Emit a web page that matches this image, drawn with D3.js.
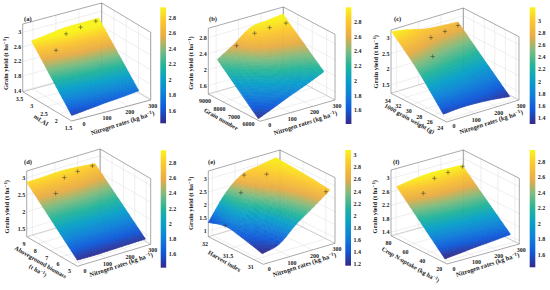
<!DOCTYPE html>
<html>
<head>
<meta charset="utf-8">
<script src="https://cdn.jsdelivr.net/npm/d3@7"></script>
<style>
  html, body { margin: 0; padding: 0; background: #fff; }
  text { font-family: "Liberation Serif", serif; font-weight: bold; fill: #222; }
</style>
</head>
<body>
<div id="chart-area"></div>
<script>
// surface rows run from the low to the high level of the panel's variable
var nitrogenA = [-45, 27, 100, 172, 248]
var levelsA = [1.5, 3.14]
var yieldsA = [[1.52, 1.57, 1.62, 1.66, 1.71], [2.91, 2.97, 3.03, 3.04, 3.05]]
var pointsA = [[0, 2.56, 2.81], [90, 2.99, 2.94], [180, 3.24, 2.87], [270, 3.46, 2.8]]

var nitrogenB = [-35, 39, 112, 186, 258]
var levelsB = [5544, 6965, 8380]
var yieldsB = [[1.43, 1.61, 1.79, 1.96, 2.14], [1.9, 2.17, 2.4, 2.5, 2.59], [2.37, 2.63, 2.93, 2.99, 3.04]]
var pointsB = [[0, 7583, 2.81], [90, 7733, 2.95], [180, 8090, 2.88], [270, 8350, 2.8]]

var nitrogenC = [-24, 51, 125, 200, 274]
var levelsC = [24.04, 28.97, 33.9]
var yieldsC = [[1.42, 1.46, 1.45, 1.41, 1.34], [2.41, 2.32, 2.24, 2.17, 2.1], [3.21, 3.11, 2.97, 2.91, 2.87]]
var pointsC = [[0, 27.08, 2.95], [90, 31.23, 3], [180, 32.4, 2.9], [270, 33.74, 2.78]]

var nitrogenD = [-25, 50, 125, 199, 277]
var levelsD = [4.6, 9.05]
var yieldsD = [[1.45, 1.44, 1.45, 1.46, 1.47], [2.87, 2.88, 2.9, 2.87, 2.82]]
var pointsD = [[0, 7, 2.89], [90, 8.02, 2.98], [180, 8.64, 2.86], [270, 9.13, 2.75]]

var nitrogenE = [-18, 57, 132, 207, 282]
var levelsE = [30.82, 31.22, 31.62, 32]
var yieldsE = [
    [1.17, 1.35, 1.92, 2.38, 2.86],
    [1.37, 1.65, 2.15, 2.58, 2.95],
    [1.51, 2.05, 2.5, 2.8, 3.01],
    [1.33, 2.25, 2.8, 2.94, 3.06]
]
var pointsE = [[0, 31.72, 1.41], [90, 31.82, 2.36], [100, 31.8, 3.03], [180, 31.7, 2.95], [270, 30.85, 2.8]]

var nitrogenF = [-22, 51, 124, 197, 270]
var levelsF = [17.3, 74.2]
var yieldsF = [[1.42, 1.47, 1.52, 1.56, 1.61], [2.84, 2.92, 2.97, 2.96, 2.94]]
var pointsF = [[0, 48.6, 2.93], [90, 59.4, 3.07], [180, 67.1, 2.98], [270, 73.7, 2.9]]

var panelLetters = ["(a)", "(b)", "(c)", "(d)", "(e)", "(f)"]
var levelTitles = [["mLAI"], ["Grain number"], ["1000 grain weight (g)"], ["Aboveground biomass", "(t ha|)"], ["Harvest index"], ["Crop N-uptake (kg ha|)"]]
var nitrogenTicks = [0, 100, 200, 300]
var levelTicks = [[1.5, 2, 2.5, 3, 3.5], [6000, 7000, 8000, 9000], [24, 26, 28, 30, 32, 34], [5, 6, 7, 8, 9], [31, 31.5, 32], [20, 40, 60, 80]]
var yieldTicks = [[1.4, 1.8, 2.2, 2.6, 3], [1.6, 2, 2.4, 2.8], [1.5, 2, 2.5, 3], [1.5, 2, 2.5, 3], [1, 1.5, 2, 2.5, 3], [1.4, 1.8, 2.2, 2.6, 3]]
var barTicks = [
    [1.6, 1.8, 2, 2.2, 2.4, 2.6, 2.8],
    [1.6, 1.8, 2, 2.2, 2.4, 2.6, 2.8],
    [1.4, 1.6, 1.8, 2, 2.2, 2.4, 2.6, 2.8, 3],
    [1.6, 1.8, 2, 2.2, 2.4, 2.6, 2.8],
    [1.2, 1.4, 1.6, 1.8, 2, 2.2, 2.4, 2.6, 2.8, 3],
    [1.6, 1.8, 2, 2.2, 2.4, 2.6, 2.8]
]
var nitrogenRanges = [[-45, 300], [-35, 300], [-24, 300], [-25, 300], [-18, 300], [-22, 300]]
var levelRanges = [[1.5, 3.5], [5430, 9000], [23.4, 34], [4.6, 9.05], [30.8, 32], [14.9, 80.8]]
var yieldRanges = [[1.37, 3.23], [1.39, 3.03], [1.23, 3.25], [1.27, 3.2], [0.78, 3.31], [1.3, 3.25]]
var colorRanges = [[1.43, 2.93], [1.41, 2.99], [1.3, 3.21], [1.42, 2.96], [1.17, 3.08], [1.43, 2.95]]

var nitrogenAll = [nitrogenA, nitrogenB, nitrogenC, nitrogenD, nitrogenE, nitrogenF]
var levelsAll = [levelsA, levelsB, levelsC, levelsD, levelsE, levelsF]
var yieldsAll = [yieldsA, yieldsB, yieldsC, yieldsD, yieldsE, yieldsF]
var pointsAll = [pointsA, pointsB, pointsC, pointsD, pointsE, pointsF]

// parula, nudged towards the more orange print of the figure
var parula = ["#352a87", "#1058d8", "#0f80d8", "#08a0c8", "#22b49a", "#7cbb80", "#e8ac45", "#fbc530", "#f9f31a"]

// box corners on the page: front, right, left and the wall height
var layout = [
    { F: [71.7, 121], R: [150.7, 100], L: [22.7, 91.7], h: 67.7, bar: [160.3, 7.3, 5.7, 116], letter: [24, 21], nt: [123.3, 125, -18], lt: [40, 122, 33], zt: [8.3, 63.3] },
    { F: [260, 121.3], R: [335, 100], L: [208.3, 94], h: 65.7, bar: [345.7, 7.3, 5.7, 116.7], letter: [209, 21], nt: [306, 125, -18], lt: [220, 121, 30], zt: [193.3, 63] },
    { F: [446.7, 122], R: [519, 100], L: [391, 93.3], h: 63.3, bar: [529.7, 7.3, 5.7, 116.7], letter: [394, 21], nt: [491.7, 124, -18], lt: [408.5, 120.5, 29], zt: [378.3, 61.7] },
    { F: [77.3, 266.3], R: [150.7, 244.3], L: [26.7, 236.7], h: 65.7, bar: [160.7, 150.3, 5.5, 117.4], letter: [24, 164], nt: [121.7, 266.7, -18], lt: [39.5, 264, 30], zt: [9.3, 206.7] },
    { F: [263.3, 264.3], R: [335, 243.3], L: [208.3, 236.7], h: 65.7, bar: [345.3, 150, 5.7, 115.7], letter: [208, 164], nt: [305, 266.7, -18], lt: [223.5, 263, 30], zt: [193.3, 203.3] },
    { F: [447, 264], R: [519.3, 244], L: [391, 235.7], h: 65.7, bar: [529.7, 150, 5.6, 117.3], letter: [393, 164], nt: [488.3, 266.7, -18], lt: [409.5, 266.5, 30], zt: [377.3, 206.7] }
]

var svg = d3.select("#chart-area").append("svg")
    .attr("width", 550)
    .attr("height", 290)
    .style("display", "block")

var defs = svg.append("defs")
var parulaScale = d3.scaleLinear()
    .domain(parula.map(function(c, i) { return i / (parula.length - 1) }))
    .range(parula)

// title with "|" standing in for the -1 exponent
function addTitle(sel, label, size) {
    var parts = label.split("|")
    sel.text(null).append("tspan").text(parts[0])
    if (parts.length > 1) {
        sel.append("tspan").attr("dy", -2).attr("font-size", size - 1.6).text("\u2212" + "1")
        sel.append("tspan").attr("dy", 2).text(parts[1])
    }
}

// catmull-rom through a row, t is a fractional index
function smooth(row, t) {
    var last = row.length - 1
    var k = Math.min(Math.floor(t), last - 1)
    var s = t - k
    var p1 = row[k], p2 = row[k + 1]
    var p0 = k > 0 ? row[k - 1] : 2 * p1 - p2
    var p3 = k + 2 <= last ? row[k + 2] : 2 * p2 - p1
    return 0.5 * (2 * p1 + (p2 - p0) * s + (2 * p0 - 5 * p1 + 4 * p2 - p3) * s * s + (3 * p1 - p0 - 3 * p2 + p3) * s * s * s)
}

function drawPanel(i) {
    var box = layout[i]
    var sN = d3.scaleLinear().domain(nitrogenRanges[i]).range([0, 1])
    var sV = d3.scaleLinear().domain(levelRanges[i]).range([0, 1])
    var sZ = d3.scaleLinear().domain(yieldRanges[i]).range([0, box.h])
    var color = d3.scaleSequential(parulaScale).domain(colorRanges[i]).clamp(true)
    var nRange = nitrogenRanges[i], vRange = levelRanges[i], zRange = yieldRanges[i]

    function project(n, v, z) {
        var a = sN(n), b = sV(v)
        return [
            box.F[0] + a * (box.R[0] - box.F[0]) + b * (box.L[0] - box.F[0]),
            box.F[1] + a * (box.R[1] - box.F[1]) + b * (box.L[1] - box.F[1]) - sZ(z)
        ]
    }

    var g = svg.append("g")
    var line = d3.line()

    // walls and floor grid
    var grid = []
    nitrogenTicks.forEach(function(n) {
        grid.push([project(n, vRange[0], zRange[0]), project(n, vRange[1], zRange[0]), project(n, vRange[1], zRange[1])])
    })
    levelTicks[i].forEach(function(v) {
        grid.push([project(nRange[0], v, zRange[0]), project(nRange[1], v, zRange[0]), project(nRange[1], v, zRange[1])])
    })
    yieldTicks[i].forEach(function(z) {
        grid.push([project(nRange[0], vRange[1], z), project(nRange[1], vRange[1], z), project(nRange[1], vRange[0], z)])
    })
    g.append("g").selectAll("path").data(grid).enter().append("path")
        .attr("d", line)
        .attr("fill", "none")
        .attr("stroke", "#dedede")
        .attr("stroke-width", 0.5)

    var edges = [
        [project(nRange[0], vRange[1], zRange[0]), project(nRange[0], vRange[1], zRange[1]), project(nRange[1], vRange[1], zRange[1]), project(nRange[1], vRange[0], zRange[1]), project(nRange[1], vRange[0], zRange[0])],
        [project(nRange[1], vRange[1], zRange[0]), project(nRange[1], vRange[1], zRange[1])],
        [project(nRange[0], vRange[1], zRange[0]), project(nRange[1], vRange[1], zRange[0]), project(nRange[1], vRange[0], zRange[0])],
        [project(nRange[0], vRange[1], zRange[0]), project(nRange[0], vRange[0], zRange[0]), project(nRange[1], vRange[0], zRange[0])]
    ]
    g.append("g").selectAll("path").data(edges).enter().append("path")
        .attr("d", line)
        .attr("fill", "none")
        .attr("stroke", function(d, k) { return k == 2 ? "#aaa" : "#555" })
        .attr("stroke-width", 0.5)

    // surface, painted from the far corner to the near one
    var ns = nitrogenAll[i], vs = levelsAll[i], zs = yieldsAll[i]
    var nAt = d3.scaleLinear().domain(d3.range(ns.length)).range(ns)
    var vAt = d3.scaleLinear().domain(d3.range(vs.length)).range(vs)
    function vertex(u, t) {
        var z = smooth(zs.map(function(row) { return smooth(row, u) }), t)
        return { p: project(nAt(u), vAt(t), z), z: z }
    }
    var uSteps = 48, vSteps = 60
    var uMax = ns.length - 1, vMax = vs.length - 1
    var cells = []
    for (var a = uSteps - 1; a >= 0; a--) {
        for (var b = vSteps - 1; b >= 0; b--) {
            var u0 = a / uSteps * uMax, u1 = (a + 1) / uSteps * uMax
            var t0 = b / vSteps * vMax, t1 = (b + 1) / vSteps * vMax
            var c0 = vertex(u0, t0), c1 = vertex(u1, t0), c2 = vertex(u1, t1), c3 = vertex(u0, t1)
            cells.push({
                pts: [c0.p, c1.p, c2.p, c3.p],
                z: (c0.z + c1.z + c2.z + c3.z) / 4
            })
        }
    }
    g.append("g").selectAll("path").data(cells).enter().append("path")
        .attr("d", function(d) { return line(d.pts) + "Z" })
        .attr("fill", function(d) { return color(d.z) })
        .attr("stroke", function(d) { return color(d.z) })
        .attr("stroke-width", 0.5)

    // measured points
    var crosses = g.append("g").selectAll("g").data(pointsAll[i]).enter().append("g")
        .attr("transform", function(d) { return "translate(" + project(d[0], d[1], d[2]) + ")" })
    crosses.append("path")
        .attr("d", "M-2.2,0H2.2M0,-2.2V2.2")
        .attr("stroke", "#333")
        .attr("stroke-width", 0.5)

    // tick labels
    g.append("g").selectAll("text").data(nitrogenTicks).enter().append("text")
        .attr("transform", function(d) {
            var p = project(d, vRange[0], zRange[0])
            return "translate(" + (p[0] + 2) + "," + (p[1] + 8) + ")"
        })
        .attr("text-anchor", "middle")
        .attr("font-size", 6)
        .text(function(d) { return d })
    g.append("g").selectAll("text").data(levelTicks[i]).enter().append("text")
        .attr("transform", function(d) {
            var p = project(nRange[0], d, zRange[0])
            return "translate(" + (p[0] - 3.3) + "," + (p[1] + 9.3) + ")"
        })
        .attr("text-anchor", "middle")
        .attr("font-size", 6)
        .text(function(d) { return d })
    g.append("g").selectAll("text").data(yieldTicks[i]).enter().append("text")
        .attr("transform", function(d) {
            var p = project(nRange[0], vRange[1], d)
            return "translate(" + (p[0] - 1.5) + "," + (p[1] + 2) + ")"
        })
        .attr("text-anchor", "end")
        .attr("font-size", 6)
        .text(function(d) { return d })

    // titles
    g.append("text")
        .attr("x", box.letter[0]).attr("y", box.letter[1])
        .attr("font-size", 6.5)
        .text(panelLetters[i])
    g.append("text")
        .attr("transform", "translate(" + box.nt[0] + "," + box.nt[1] + ") rotate(" + box.nt[2] + ")")
        .attr("text-anchor", "middle")
        .attr("font-size", 6.5)
        .call(addTitle, "Nitrogen rates (kg ha|)", 6.5)
    levelTitles[i].forEach(function(label, k) {
        g.append("text")
            .attr("transform", "translate(" + (box.lt[0] - k * 2.7) + "," + (box.lt[1] + k * 8.4) + ") rotate(" + box.lt[2] + ")")
            .attr("text-anchor", "middle")
            .attr("font-size", 6.2)
            .call(addTitle, label, 6.2)
    })
    g.append("text")
        .attr("transform", "translate(" + box.zt[0] + "," + box.zt[1] + ") rotate(-90)")
        .attr("text-anchor", "middle")
        .attr("font-size", 6.5)
        .call(addTitle, "Grain yield (t ha|)", 6.5)

    // colorbar
    var gradient = defs.append("linearGradient")
        .attr("id", "bar" + i)
        .attr("x1", 0).attr("x2", 0).attr("y1", 1).attr("y2", 0)
    parula.forEach(function(c, k) {
        gradient.append("stop").attr("offset", k / (parula.length - 1)).attr("stop-color", c)
    })
    var barBox = box.bar
    g.append("rect")
        .attr("x", barBox[0]).attr("y", barBox[1])
        .attr("width", barBox[2]).attr("height", barBox[3])
        .attr("fill", "url(#bar" + i + ")")
    var barScale = d3.scaleLinear().domain(colorRanges[i]).range([barBox[1] + barBox[3], barBox[1]])
    var barAxis = g.append("g")
        .attr("transform", "translate(" + (barBox[0] + barBox[2]) + ",0)")
        .call(d3.axisRight(barScale).tickValues(barTicks[i]).tickSize(0).tickPadding(2.5).tickFormat(function(d) { return d }))
    barAxis.select(".domain").remove()
    barAxis.selectAll("text").attr("font-size", 6).attr("font-family", null)
}

d3.range(6).forEach(drawPanel)
</script>
</body>
</html>
